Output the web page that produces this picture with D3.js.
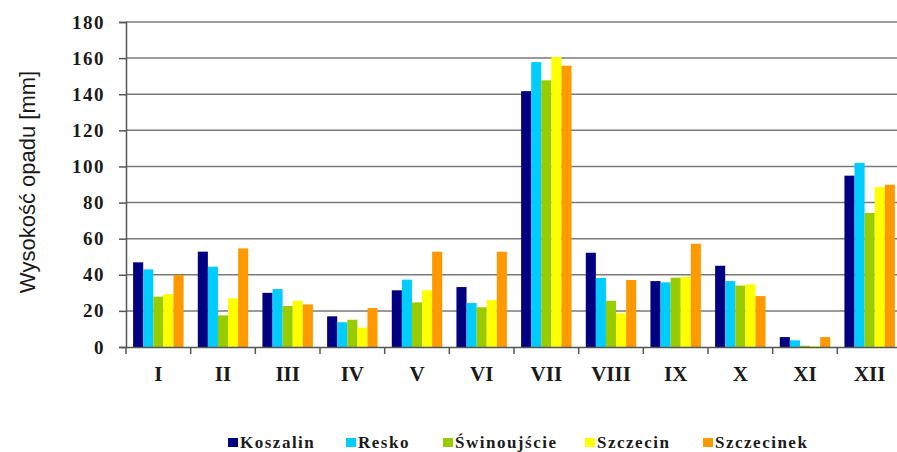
<!DOCTYPE html>
<html>
<head>
<meta charset="utf-8">
<script src="https://cdn.jsdelivr.net/npm/d3@7"></script>
<style>
  body { margin: 0; background: #fff; }
</style>
</head>
<body>
<div id="chart"></div>
<script>
// months (roman numerals) and stations
var months = ["I", "II", "III", "IV", "V", "VI", "VII", "VIII", "IX", "X", "XI", "XII"];
var stations = ["Koszalin", "Resko", "Świnoujście", "Szczecin", "Szczecinek"];
var colors = ["#000080", "#00CCFF", "#99CC00", "#FFFF00", "#FF9900"];

// precipitation [mm] per station, one value per month
var koszalin    = [46.9, 52.8, 30.0, 17.0, 31.4, 33.2, 141.7, 52.2, 36.5, 45.0, 5.5, 94.9];
var resko       = [43.0, 44.5, 32.1, 13.7, 37.3, 24.4, 157.8, 38.2, 35.8, 36.5, 3.7, 102.0];
var swinoujscie = [27.9, 17.5, 22.7, 15.1, 24.7, 22.0, 147.7, 25.6, 38.4, 34.0, 0.7, 74.2];
var szczecin    = [29.3, 27.0, 25.6, 10.7, 31.4, 25.9, 160.7, 18.7, 38.8, 34.7, 0.5, 88.6];
var szczecinek  = [39.9, 54.6, 23.6, 21.6, 52.8, 52.8, 155.8, 37.1, 57.2, 28.2, 5.5, 89.9];

var yTicks = [0, 20, 40, 60, 80, 100, 120, 140, 160, 180];

var series = [koszalin, resko, swinoujscie, szczecin, szczecinek];

var serif = "'Liberation Serif', 'Times New Roman', serif";

var W = 897, H = 452;
var margin = { top: 22, right: -5, bottom: 105, left: 126 };
var width = W - margin.left - margin.right,
    height = H - margin.top - margin.bottom;

var svg = d3.select("#chart").append("svg")
    .attr("width", W)
    .attr("height", H);
var inner = svg.append("g")
    .attr("transform", "translate(" + margin.left + "," + margin.top + ")");

var y = d3.scaleLinear().domain([0, 180]).range([height, 0]);
var x0 = d3.scaleBand().domain(months).range([0, width]);
var bw = x0.bandwidth();
var x1 = d3.scaleBand().domain(stations).range([bw * 0.11, bw * 0.89]);

// gridlines
inner.append("g")
    .selectAll("line")
    .data(yTicks.slice(1))
    .enter().append("line")
    .attr("x1", 0)
    .attr("x2", width)
    .attr("y1", function (d) { return y(d); })
    .attr("y2", function (d) { return y(d); })
    .attr("stroke", "#7a7a7a")
    .attr("stroke-width", 1.5);

// bars
var groups = inner.selectAll(".month")
    .data(months)
    .enter().append("g")
    .attr("class", "month")
    .attr("transform", function (d) { return "translate(" + x0(d) + ",0)"; });

groups.selectAll("rect")
    .data(function (m, i) {
        return stations.map(function (s, j) { return { s: s, j: j, v: series[j][i] }; });
    })
    .enter().append("rect")
    .attr("x", function (d) { return x1(d.s); })
    .attr("width", x1.bandwidth())
    .attr("y", function (d) { return y(d.v); })
    .attr("height", function (d) { return height - y(d.v); })
    .attr("fill", function (d) { return colors[d.j]; });

// Y axis
var yAxis = inner.append("g")
    .call(d3.axisLeft(y).tickValues(yTicks).tickSize(7).tickPadding(14));
yAxis.select(".domain").attr("stroke", "#555").attr("stroke-width", 1.5);
yAxis.selectAll("line").attr("stroke", "#555").attr("stroke-width", 1.5);
yAxis.selectAll("text")
    .style("font-family", serif)
    .style("font-weight", "bold")
    .style("font-size", "19px")
    .style("letter-spacing", "1.5px")
    .attr("fill", "#1a1a1a");

// X axis
var xAxis = inner.append("g")
    .attr("transform", "translate(0," + height + ")")
    .call(d3.axisBottom(x0).tickSize(0).tickPadding(19));
xAxis.select(".domain").attr("stroke", "#555").attr("stroke-width", 1.5);
xAxis.selectAll("text")
    .style("font-family", serif)
    .style("font-weight", "bold")
    .style("font-size", "21px")
    .attr("fill", "#1a1a1a");
// separator ticks between months
xAxis.append("g")
    .selectAll("line")
    .data(months)
    .enter().append("line")
    .attr("x1", function (d) { return x0(d); })
    .attr("x2", function (d) { return x0(d); })
    .attr("y1", 0)
    .attr("y2", 7)
    .attr("stroke", "#555")
    .attr("stroke-width", 1.5);

// Y axis label
svg.append("text")
    .attr("transform", "translate(35,182) rotate(-90)")
    .attr("text-anchor", "middle")
    .style("font-family", "'Liberation Sans', Arial, sans-serif")
    .style("font-size", "22px")
    .attr("fill", "#1a1a1a")
    .text("Wysokość opadu [mm]");

// legend
var legendX = [228, 346, 443, 585, 703];
var legend = svg.selectAll(".legend")
    .data(stations)
    .enter().append("g")
    .attr("class", "legend")
    .attr("transform", function (d, i) { return "translate(" + legendX[i] + ",437)"; });

legend.append("rect")
    .attr("width", 10)
    .attr("height", 9)
    .attr("y", 1)
    .attr("fill", function (d, i) { return colors[i]; });

legend.append("text")
    .attr("x", 12)
    .attr("y", 11)
    .style("font-family", serif)
    .style("font-weight", "bold")
    .style("font-size", "17px")
    .style("letter-spacing", "1.5px")
    .attr("fill", "#1a1a1a")
    .text(function (d) { return d; });
</script>
</body>
</html>
